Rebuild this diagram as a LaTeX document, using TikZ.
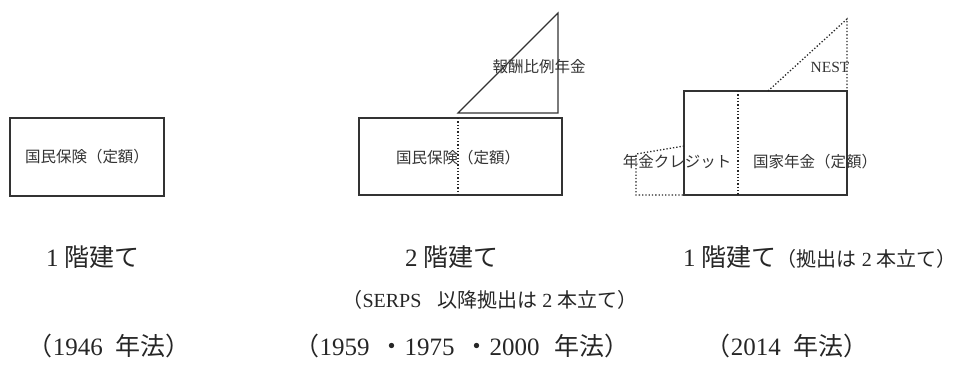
\documentclass[tikz,border=0pt]{standalone}
\usepackage{fontspec}
\setmainfont{Liberation Serif}
\newfontfamily\jpfont{Noto Sans CJK JP}
\newcommand\J[1]{{\jpfont #1}}
\begin{document}
\begin{tikzpicture}[x=1pt,y=-1pt,
  box/.style={draw=black!80, line width=1.2pt},
  dotln/.style={draw=black!85, line width=1.3pt, dotted},
  lbl/.style={inner sep=0pt, font=\fontsize{15.5}{18}\selectfont, text=black!80},
  big/.style={inner sep=0pt, font=\fontsize{25}{28}\selectfont, text=black!85},
  mid/.style={inner sep=0pt, font=\fontsize{20}{23}\selectfont, text=black!85}]
\useasboundingbox (0,0) rectangle (970,365);
% column 1
\node[box, lbl, minimum width=154pt, minimum height=78pt] (b1) at (87,157) {\J{国民保険（定額）}};
% column 2
\node[box, minimum width=203pt, minimum height=77pt] (b2) at (460.5,156.5) {};
\coordinate (d2t) at (458,118);
\coordinate (d2b) at (458,195);
\draw[dotln] (d2t) -- (d2b);
\node[lbl] (b2l) at (458,158) {\J{国民保険（定額）}};
\coordinate (t1) at (458,113);
\coordinate (t2) at (558,13);
\coordinate (t3) at (558,113);
\draw[box, line join=miter] (t1) -- (t2) -- (t3) -- cycle;
\node[lbl] (hr) at (539,67) {\J{報酬比例年金}};
% column 3
\node[box, minimum width=163pt, minimum height=104pt] (b3) at (765.5,143) {};
\coordinate (d3t) at (738,91);
\coordinate (d3b) at (738,195);
\draw[dotln] (d3t) -- (d3b);
\coordinate (n1) at (768,91);
\coordinate (n2) at (847,19);
\coordinate (n3) at (847,91);
\draw[dotln] (n1) -- (n2) -- (n3);
\node[lbl] (nest) at (830,67) {NEST};
\coordinate (c1) at (684,146);
\coordinate (c2) at (636,154);
\coordinate (c3) at (636,195);
\coordinate (c4) at (684,195);
\draw[dotln] (c1) -- (c2) -- (c3) -- (c4);
\node[lbl] (cr) at (677,162) {\J{年金クレジット}};
\node[lbl] (kk) at (815,162) {\J{国家年金（定額）}};
% bottom labels
\node[big] (l1) at (93,257) {1 \J{階建て}};
\node[big] (l2) at (452,257) {2 \J{階建て}};
\node[big, anchor=west] (l3) at (683,257) {1 \J{階建て}{\fontsize{20}{23}\selectfont\J{（拠出は} 2 \J{本立て）}}};
\node[mid] (s2) at (490,300) {\J{（}SERPS\hspace{16pt}\J{以降拠出は} 2 \J{本立て）}};
\node[big] (y1) at (109,346) {\J{（}1946\hspace{0.5em}\J{年法）}};
\node[big] (y2) at (462,346) {\J{（}1959\hspace{0.4em}\J{・}1975\hspace{0.4em}\J{・}2000\hspace{0.6em}\J{年法）}};
\node[big] (y3) at (787,346) {\J{（}2014\hspace{0.5em}\J{年法）}};
\end{tikzpicture}
\end{document}
